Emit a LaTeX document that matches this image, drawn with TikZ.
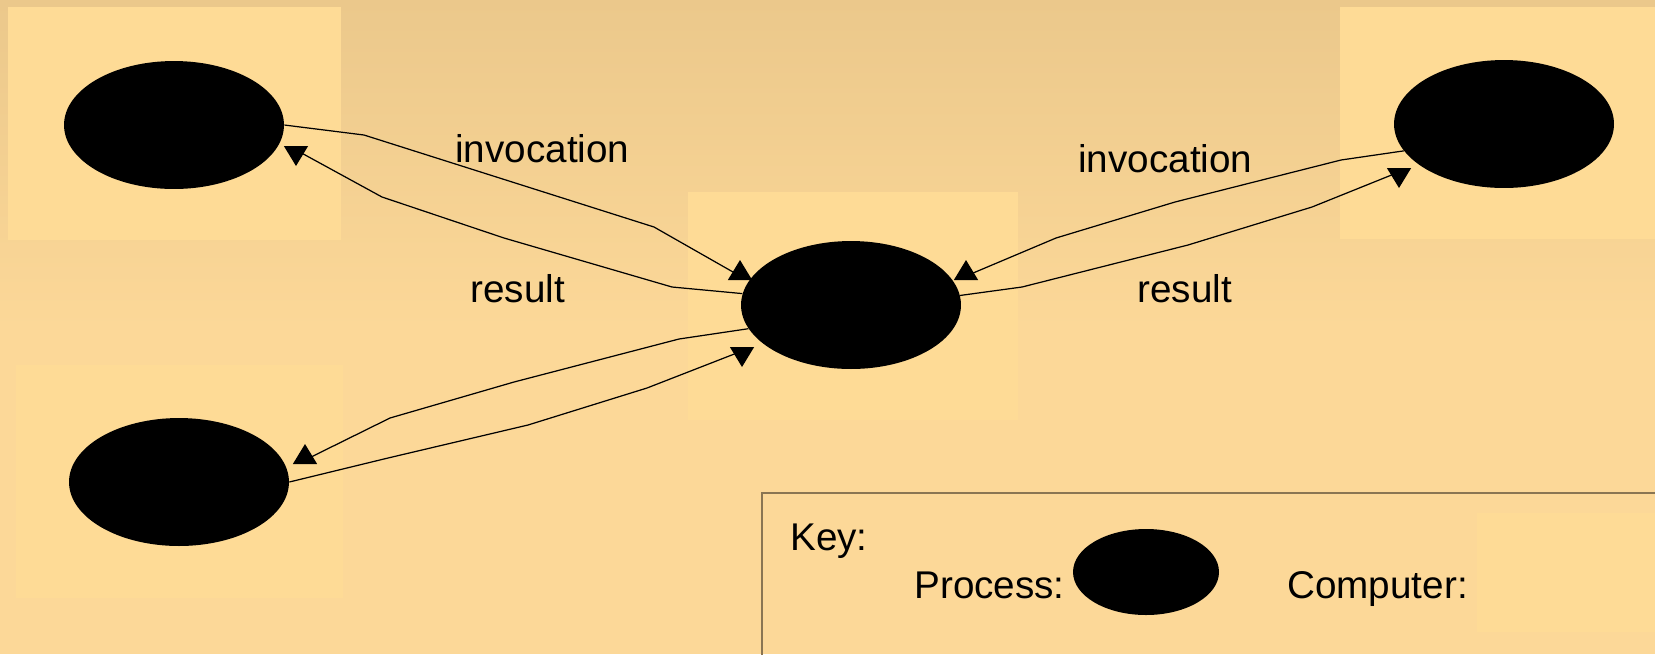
\documentclass[tikz,border=0pt]{standalone}
\usepackage{fontspec}
\setmainfont{Liberation Sans}
\usetikzlibrary{shapes.geometric,arrows.meta}
\definecolor{bgtop}{RGB}{235,200,139}
\definecolor{bgbottom}{RGB}{252,216,152}
\definecolor{computer}{RGB}{254,219,150}
\definecolor{keyline}{RGB}{138,117,82}

\begin{document}
\begin{tikzpicture}[x=0.02cm,y=-0.02cm,
  process/.style={ellipse,fill=black,inner sep=0pt,minimum width=4.4cm,minimum height=2.56cm},
  machine/.style={fill=computer},
  lbl/.style={anchor=base west,inner sep=0pt,font=\fontsize{22}{26}\selectfont}]
\tikzset{link/.style={draw=black,line width=0.7pt,-{Triangle[length=0.4cm,width=0.48cm]}}}
\useasboundingbox (0,0) rectangle (1655,654);
% background
\shade[top color=bgtop,bottom color=bgbottom] (0,0) rectangle (1655,330);
\fill[bgbottom] (0,330) rectangle (1655,654);
% computers
\fill[machine] (8,7) rectangle (341,240);
\fill[machine] (16,365) rectangle (343,598);
\fill[machine] (688,192) rectangle (1018,420);
\fill[machine] (1340,7) rectangle (1655,239);
% processes
\node[process] (tl) at (174,125) {};
\node[process] (bl) at (179,482) {};
\node[process] (cen) at (851,305) {};
\node[process] (tr) at (1504,124) {};
% messages
\draw[link] (tl.east) -- (364,135) -- (654,227) -- ([shift={(-111,-29)}]cen.center) -- ([shift={(-111,-45)}]cen.center);
\draw[link] (cen.174) -- (672,287) -- (504,238) -- (382,197) -- ([shift={(122,25)}]tl.center) -- ([shift={(122,41)}]tl.center);
\draw[link] (cen.193) -- (679,339) -- (514,382) -- (390,418) -- ([shift={(126,-22)}]bl.center) -- ([shift={(126,-38)}]bl.center);
\draw[link] (bl.east) -- (388,458) -- (528,425) -- (647,388) -- ([shift={(-109,46)}]cen.center) -- ([shift={(-109,62)}]cen.center);
\draw[link] (tr.195) -- (1341,160) -- (1175,202) -- (1056,238) -- ([shift={(115,-29)}]cen.center) -- ([shift={(115,-45)}]cen.center);
\draw[link] (cen.5) -- (1022,287) -- (1188,245) -- (1312,207) -- ([shift={(-105,48)}]tr.center) -- ([shift={(-105,64)}]tr.center);
\node[lbl] (invleft) at (455,162) {invocation};
\node[lbl] (resleft) at (470,302) {result};
\node[lbl] (invright) at (1078,172) {invocation};
\node[lbl] (resright) at (1137,302) {result};
% key
\draw[draw=keyline,line width=1.2pt] (762,670) |- (1670,493);
\fill[machine] (1477,513) rectangle (1660,632);
\node[lbl] (key) at (790,550) {Key:};
\node[lbl] (proc) at (914,598) {Process:};
\node[process,minimum width=2.92cm,minimum height=1.72cm] (keyproc) at (1146,572) {};
\node[lbl] (comp) at (1287,598) {Computer:};
\end{tikzpicture}
\end{document}
